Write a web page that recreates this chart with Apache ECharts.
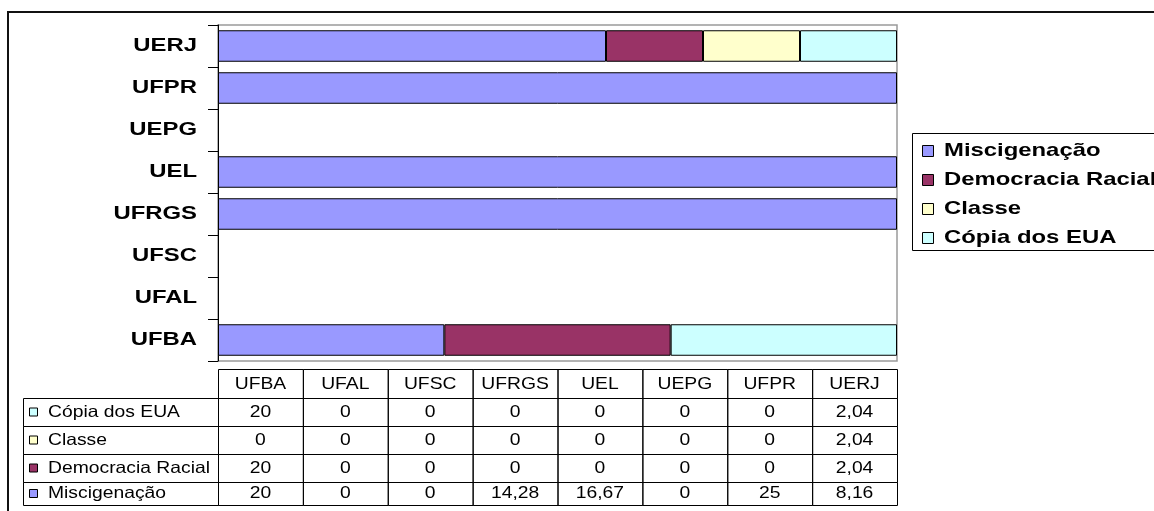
<!DOCTYPE html>
<html lang="pt">
<head>
<meta charset="UTF-8">
<title>Gráfico</title>
<script src="https://cdn.jsdelivr.net/npm/echarts@6/dist/echarts.min.js"></script>
<style>html,body{margin:0;padding:0;background:#fff;}</style>
</head>
<body>
<div id="chart1" style="width:1154px;height:511px;"></div>
<script type="text/javascript">
var universidades = ['UFBA', 'UFAL', 'UFSC', 'UFRGS', 'UEL', 'UEPG', 'UFPR', 'UERJ'];
var miscigenacao = [20, 0, 0, 14.28, 16.67, 0, 25, 8.16];
var democracia = [20, 0, 0, 0, 0, 0, 0, 2.04];
var classe = [0, 0, 0, 0, 0, 0, 0, 2.04];
var copia = [20, 0, 0, 0, 0, 0, 0, 2.04];
var nomes = ['Miscigenação', 'Democracia Racial', 'Classe', 'Cópia dos EUA'];
var cores = ['#9999ff', '#993366', '#ffffcc', '#ccffff'];

var valores = [miscigenacao, democracia, classe, copia];
// barras em 100% (cada universidade soma 100)
var totais = universidades.map(function (u, i) {
  return valores.reduce(function (s, v) { return s + v[i]; }, 0);
});
function pct(v, i) { return v[i] ? v[i] / totais[i] * 100 : '-'; }

var G = { left: 218, top: 25, width: 679, height: 336 };
var FONT_B = 'bold 18.5px "Liberation Sans", Arial, sans-serif';
var FONT_T = '16.5px "Liberation Sans", Arial, sans-serif';

var myChart1 = echarts.init(document.getElementById('chart1'));

myChart1.setOption({
  animation: false,
  grid: {
    left: G.left, top: G.top, width: G.width, height: G.height,
    show: true, borderColor: '#9a9a9a', borderWidth: 1.5, backgroundColor: '#fff'
  },
  xAxis: { type: 'value', min: 0, max: 100, show: false },
  yAxis: {
    type: 'category',
    data: universidades,
    axisLine: { lineStyle: { color: '#000', width: 1 } },
    axisTick: { show: true, length: 10, lineStyle: { color: '#000' } },
    axisLabel: { show: false },
    splitLine: { show: false }
  },
  series: valores.map(function (v, k) {
    return {
      name: nomes[k],
      type: 'bar',
      stack: 'total',
      barCategoryGap: '25%',
      silent: true,
      itemStyle: { color: cores[k], borderColor: '#000', borderWidth: 1 },
      data: universidades.map(function (u, i) { return pct(v, i); })
    };
  })
});

function txt(x, y, s, font, align, sx) {
  return {
    type: 'text', x: x, y: y, scaleX: sx, silent: true,
    style: { text: s, font: font, fill: '#000', align: align, textAlign: align,
             verticalAlign: 'middle', textVerticalAlign: 'middle' }
  };
}
function caixa(x, y, w, h, fill) {
  return {
    type: 'rect', silent: true,
    shape: { x: x, y: y, width: w, height: h },
    style: { fill: fill || 'none', stroke: '#000', lineWidth: 1 }
  };
}
function fmt(n) { return String(n).replace('.', ','); }

var els = [];
// moldura externa
els.push({ type: 'polyline', silent: true, shape: { points: [[8, 520], [8, 12], [1160, 12]] },
  style: { stroke: '#111', lineWidth: 2, fill: 'none' } });

// rótulos das categorias
universidades.forEach(function (u) {
  var y = myChart1.convertToPixel({ yAxisIndex: 0 }, u);
  els.push(txt(197, y, u, FONT_B, 'right', 1.29));
});

// legenda
els.push(caixa(912.5, 133.5, 260, 117));
nomes.forEach(function (n, k) {
  var cy = 151 + k * 29;
  els.push(caixa(922.5, cy - 5.5, 11, 11, cores[k]));
  els.push(txt(944, cy, n, FONT_B, 'left', 1.29));
});

// tabela de dados
var colW = G.width / universidades.length;
var linhas = [398, 426, 454, 482, 505];
universidades.forEach(function (u, c) {
  var x = G.left + c * colW;
  els.push(caixa(x + 0.5, 369.5, colW, 29));
  els.push(txt(x + colW / 2, 384, u, FONT_T, 'center', 1.17));
});
var ordem = [3, 2, 1, 0];
ordem.forEach(function (k, r) {
  var y0 = linhas[r], h = linhas[r + 1] - y0, cy = y0 + h / 2;
  els.push(caixa(23.5, y0 + 0.5, G.left - 23, h));
  els.push(caixa(29.5, cy - 4, 8, 8, cores[k]));
  els.push(txt(48, cy, nomes[k], FONT_T, 'left', 1.17));
  universidades.forEach(function (u, c) {
    var x = G.left + c * colW;
    els.push(caixa(x + 0.5, y0 + 0.5, colW, h));
    els.push(txt(x + colW / 2, cy, fmt(valores[k][c]), FONT_T, 'center', 1.17));
  });
});

myChart1.setOption({ graphic: { elements: els } });
</script>
</body>
</html>
